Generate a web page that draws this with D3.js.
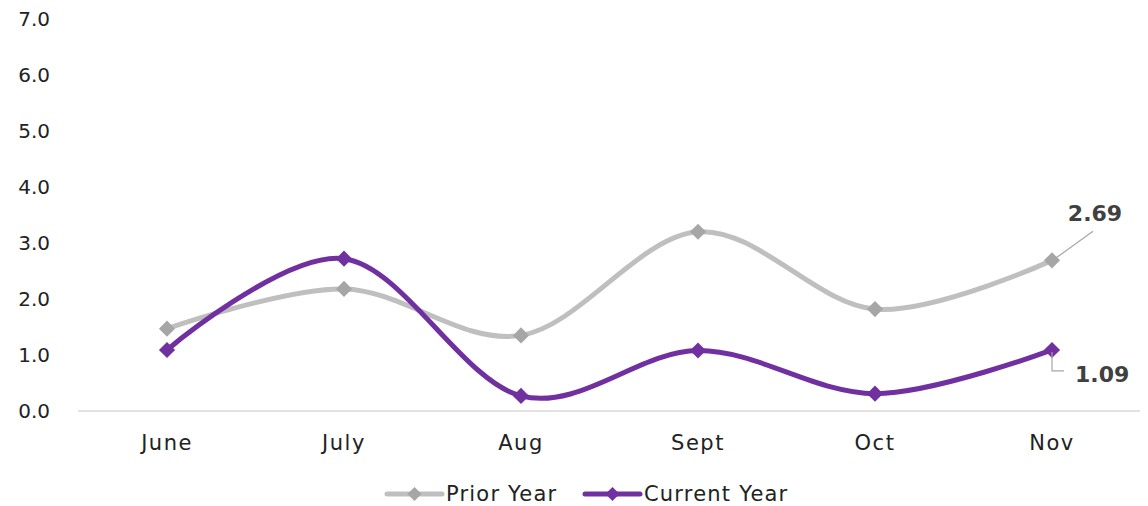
<!DOCTYPE html>
<html><head><meta charset="utf-8">
<script src="https://cdn.jsdelivr.net/npm/d3@7"></script>
<style>body{margin:0;background:#fff}svg{display:block}text{font-family:"DejaVu Sans",sans-serif}</style>
</head><body>
<script>
const categories = ["June","July","Aug","Sept","Oct","Nov"];
const priorYear = [1.47, 2.18, 1.35, 3.20, 1.82, 2.69];
const currentYear = [1.09, 2.72, 0.27, 1.08, 0.31, 1.09];
const yTicks = [0,1,2,3,4,5,6,7];
const seriesNames = ["Prior Year","Current Year"];

const W=1148,H=506;
const svg=d3.select("body").append("svg").attr("width",W).attr("height",H);
const x=d3.scalePoint().domain(categories).range([167,1052]);
const y=d3.scaleLinear().domain([0,7]).range([411,19]);

svg.append("g").selectAll("text").data(yTicks).join("text")
  .attr("x",50).attr("y",d=>y(d)).attr("dy","0.35em").attr("text-anchor","end")
  .attr("font-size",20).attr("fill","#222").text(d=>d.toFixed(1));
svg.append("line").attr("x1",78).attr("x2",1140).attr("y1",y(0)).attr("y2",y(0))
  .attr("stroke","#d9d9d9").attr("stroke-width",1.5);
svg.append("g").selectAll("text").data(categories).join("text")
  .attr("x",d=>x(d)).attr("y",443).attr("dy","0.35em").attr("text-anchor","middle")
  .attr("font-size",21).attr("letter-spacing","1.5px").attr("fill","#222").text(d=>d);

const line=d3.line().x((d,i)=>x(categories[i])).y(d=>y(d)).curve(d3.curveCatmullRom.alpha(0));
const series=[{vals:priorYear,line:"#bfbfbf",mark:"#a6a6a6"},{vals:currentYear,line:"#7030a0",mark:"#7030a0"}];
series.forEach(s=>{
  svg.append("path").attr("d",line(s.vals)).attr("fill","none").attr("stroke",s.line).attr("stroke-width",5).attr("stroke-linecap","round");
  svg.append("g").selectAll("path").data(s.vals).join("path")
    .attr("d",d3.symbol().type(d3.symbolSquare).size(130))
    .attr("transform",(d,i)=>`translate(${x(categories[i])},${y(d)}) rotate(45)`)
    .attr("fill",s.mark);
});

const nx=x("Nov");
const py=y(priorYear[5]), cy=y(currentYear[5]);
svg.append("path").attr("d",`M${nx+2},${py-1}L${nx+41},${py-29}`).attr("stroke","#a6a6a6").attr("stroke-width",1.2).attr("fill","none");
svg.append("text").attr("x",nx+43).attr("y",py-47).attr("dy","0.35em").attr("font-size",22).attr("font-weight","bold").attr("fill","#404040").attr("text-anchor","middle").text(priorYear[5].toFixed(2));
svg.append("path").attr("d",`M${nx},${cy+2}V${cy+21}H${nx+12}`).attr("stroke","#a6a6a6").attr("stroke-width",1.2).attr("fill","none");
svg.append("text").attr("x",nx+23).attr("y",cy+24).attr("dy","0.35em").attr("font-size",22).attr("font-weight","bold").attr("fill","#404040").text(currentYear[5].toFixed(2));

const leg=[{x:387,c:series[0]},{x:585,c:series[1]}];
leg.forEach((l,i)=>{
  svg.append("line").attr("x1",l.x).attr("x2",l.x+55).attr("y1",494).attr("y2",494).attr("stroke",l.c.line).attr("stroke-width",5).attr("stroke-linecap","round");
  svg.append("path").attr("d",d3.symbol().type(d3.symbolSquare).size(100)).attr("transform",`translate(${l.x+27.5},494) rotate(45)`).attr("fill",l.c.mark);
  svg.append("text").attr("x",l.x+59).attr("y",494).attr("dy","0.35em").attr("font-size",21).attr("letter-spacing","1.2px").attr("fill","#222").text(seriesNames[i]);
});
</script>
</body></html>
